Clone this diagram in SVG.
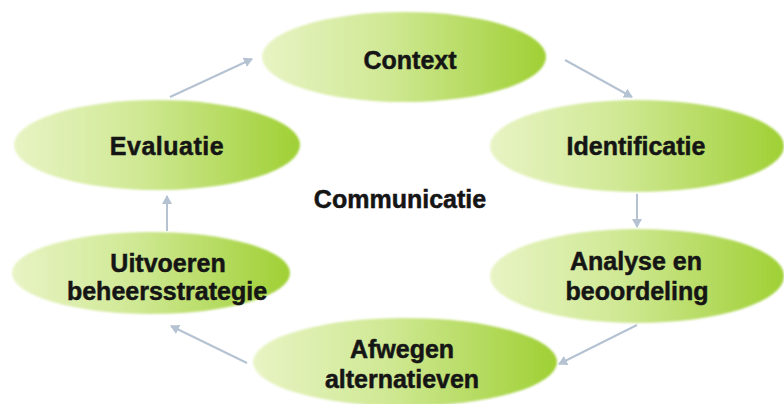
<svg xmlns="http://www.w3.org/2000/svg" width="784" height="404" viewBox="0 0 784 404">
  <defs>
    <linearGradient id="g" x1="0" y1="0" x2="1" y2="0">
      <stop offset="0" stop-color="#e8f4c4"/>
      <stop offset="0.45" stop-color="#cfe893"/>
      <stop offset="1" stop-color="#9fd034"/>
    </linearGradient>
    <filter id="soft" x="-5%" y="-10%" width="110%" height="120%">
      <feGaussianBlur stdDeviation="1.2"/>
    </filter>
    <marker id="ah" markerWidth="10" markerHeight="10" refX="8" refY="5" orient="auto" markerUnits="userSpaceOnUse">
      <path d="M0,0 L9,5 L0,10 Z" fill="#b4c2d2"/>
    </marker>
  </defs>
  <style>
    .node ellipse { fill: url(#g); filter: url(#soft); }
    .lbl { font-family: "Liberation Sans", Arial, sans-serif; font-weight: bold; font-size: 25px; fill: #151515; stroke: #151515; stroke-width: 0.5; text-anchor: middle; }
    .conn line { stroke: #b4c2d2; stroke-width: 2; marker-end: url(#ah); }
  </style>
  <rect width="784" height="404" fill="#ffffff"/>

  <g id="connectors" class="conn">
    <line x1="565" y1="60" x2="632" y2="97"/>
    <line x1="637" y1="194" x2="637" y2="227"/>
    <line x1="637" y1="325" x2="559" y2="364"/>
    <line x1="247" y1="363" x2="171" y2="326"/>
    <line x1="167" y1="231" x2="167" y2="196"/>
    <line x1="170" y1="97" x2="252" y2="59"/>
  </g>

  <g id="context" class="node">
    <ellipse cx="404" cy="57" rx="142" ry="45"/>
    <text class="lbl" x="410" y="69">Context</text>
  </g>
  <g id="identificatie" class="node">
    <ellipse cx="637" cy="146" rx="147" ry="46"/>
    <text class="lbl" x="636" y="155">Identificatie</text>
  </g>
  <g id="analyse" class="node">
    <ellipse cx="637" cy="276" rx="147" ry="47"/>
    <text class="lbl" x="636" y="270">Analyse en</text>
    <text class="lbl" x="637" y="300">beoordeling</text>
  </g>
  <g id="afwegen" class="node">
    <ellipse cx="405" cy="362" rx="152" ry="44"/>
    <text class="lbl" x="402" y="358">Afwegen</text>
    <text class="lbl" x="402" y="388">alternatieven</text>
  </g>
  <g id="uitvoeren" class="node">
    <ellipse cx="151" cy="273" rx="139" ry="41"/>
    <text class="lbl" x="168" y="272">Uitvoeren</text>
    <text class="lbl" x="167" y="300">beheersstrategie</text>
  </g>
  <g id="evaluatie" class="node">
    <ellipse cx="157" cy="145" rx="143" ry="45"/>
    <text class="lbl" x="167" y="155" letter-spacing="0.5">Evaluatie</text>
  </g>
  <g id="communicatie">
    <text class="lbl" x="400" y="208">Communicatie</text>
  </g>
</svg>
